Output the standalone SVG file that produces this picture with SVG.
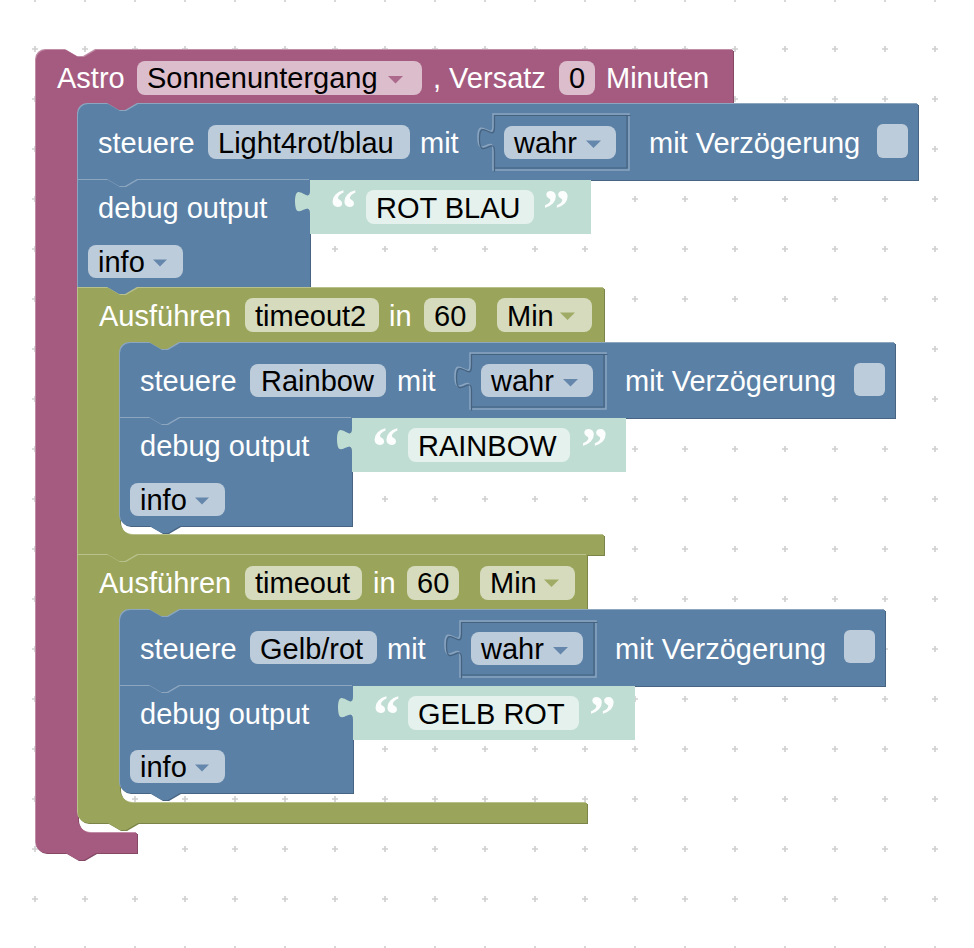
<svg xmlns="http://www.w3.org/2000/svg" width="974" height="948" viewBox="0 0 974 948">
<defs>
<pattern id="grid" x="10" y="24" width="50" height="50" patternUnits="userSpaceOnUse">
<path d="M22,25 H28 M25,22 V28" stroke="#cfcfcf" stroke-width="1.6"/>
</pattern>
<path id="sh-astro" d="M36,60 A10,10 0 0 1 46,50 H66 l12,7 h6 l12,-7 H733 V104 H138 l-12,7 h-6 l-12,-7 H88 A10,10 0 0 0 78,114 V819 A14,14 0 0 0 92,833 H137 V853 H96 l-12,7 h-6 l-12,-7 H46 A10,10 0 0 1 36,843 Z"/>
<path id="sh-st1" d="M78,114 A10,10 0 0 1 88,104 H108 l12,7 h6 l12,-7 H918 V180 H138 l-12,7 h-6 l-12,-7 H78 Z"/>
<path id="sh-db1" d="M78,180 H108 l12,7 h6 l12,-7 H310 V190 c0,16 -15,-11 -15,11.5 s15,-3.5 15,12.5 V288 H138 l-12,7 h-6 l-12,-7 H78 Z"/>
<path id="sh-ol1" d="M78,288 H108 l12,7 h6 l12,-7 H604 V343 H180 l-12,7 h-6 l-12,-7 H130 A10,10 0 0 0 120,353 V521 A14,14 0 0 0 134,535 H604 V555 H138 l-12,7 h-6 l-12,-7 H78 Z"/>
<path id="sh-st2" d="M120,353 A10,10 0 0 1 130,343 H150 l12,7 h6 l12,-7 H895 V418 H180 l-12,7 h-6 l-12,-7 H120 Z"/>
<path id="sh-db2" d="M120,418 H150 l12,7 h6 l12,-7 H352 V428 c0,16 -15,-11 -15,11.5 s15,-3.5 15,12.5 V526 H180 l-12,7 h-6 l-12,-7 H130 A10,10 0 0 1 120,516 Z"/>
<path id="sh-ol2" d="M78,555 H108 l12,7 h6 l12,-7 H587 V610 H180 l-12,7 h-6 l-12,-7 H130 A10,10 0 0 0 120,620 V789 A14,14 0 0 0 134,803 H587 V823 H138 l-12,7 h-6 l-12,-7 H88 A10,10 0 0 1 78,813 Z"/>
<path id="sh-st3" d="M120,620 A10,10 0 0 1 130,610 H150 l12,7 h6 l12,-7 H885 V686 H180 l-12,7 h-6 l-12,-7 H120 Z"/>
<path id="sh-db3" d="M120,686 H150 l12,7 h6 l12,-7 H353 V696 c0,16 -15,-11 -15,11.5 s15,-3.5 15,12.5 V793 H180 l-12,7 h-6 l-12,-7 H130 A10,10 0 0 1 120,783 Z"/>
<g id="hole">
<path d="M0,0 H136 V56 H0 V36 C0,20 -15,46 -15,23.5 C-15,1 0,28 0,12 Z" fill="none" stroke="#8ba5c0" stroke-width="1.5"/>
<path d="M136,0 H0 V12 C0,28 -15,1 -15,23.5 C-15,46 0,20 0,36 V56" transform="translate(1.5,1.5)" fill="none" stroke="#45627f" stroke-width="1.2"/>
<path d="M1.5,54 H134 V1.5" fill="none" stroke="#45627f" stroke-width="1.2"/>
</g>
</defs>
<style>
text{font-family:"Liberation Sans",Arial,Helvetica,sans-serif;font-size:29px}
.w{fill:#fff}
.k{fill:#000}
.pill{fill:#fff;fill-opacity:.6}
.q{font-family:"Liberation Serif","Times New Roman",serif;font-weight:bold;font-size:54px;fill:#fff;fill-opacity:.95}
.mg{fill:#a55b80}.mg-d{fill:#854966}.mg-l{fill:#c08ca6}
.bl{fill:#5b80a5}.bl-d{fill:#476583}.bl-l{fill:#8ca6c0}
.ol{fill:#9aa55b}.ol-d{fill:#7b8449}.ol-l{fill:#b8c08c}
.st{fill:#bfddd2}
.a-mg{fill:#a55b80;fill-opacity:.85}
.a-bl{fill:#5b80a5;fill-opacity:.9}
.a-ol{fill:#9aa55b;fill-opacity:.9}
</style>
<rect width="974" height="948" fill="#fff"/>
<rect width="974" height="948" fill="url(#grid)"/>

<g id="astro">
<use href="#sh-astro" class="mg-d" transform="translate(1,1)"/>
<use href="#sh-astro" class="mg-l" transform="translate(-1,-1)"/>
<use href="#sh-astro" class="mg"/>
<text class="w" x="57" y="87.5">Astro</text>
<rect class="pill" x="137" y="61" width="285" height="34" rx="8"/>
<text class="k" x="147" y="87.5">Sonnenuntergang</text>
<path class="a-mg" d="M388,76 h15 l-7.5,7.5 z"/>
<text class="w" x="433" y="87.5">, Versatz</text>
<rect class="pill" x="559" y="61" width="36" height="34" rx="8"/>
<text class="k" x="569" y="87.5">0</text>
<text class="w" x="606" y="87.5">Minuten</text>
</g>

<g id="steuere-light4">
<use href="#sh-st1" class="bl-d" transform="translate(1,1)"/>
<use href="#sh-st1" class="bl-l" transform="translate(-1,-1)"/>
<use href="#sh-st1" class="bl"/>
<text class="w" x="98" y="152.5">steuere</text>
<rect class="pill" x="208" y="125" width="202" height="34" rx="8"/>
<text class="k" x="218" y="152.5">Light4rot/blau</text>
<text class="w" x="420" y="152.5">mit</text>
<use href="#hole" x="493" y="114"/>
<text class="w" x="649" y="152.5">mit Verzögerung</text>
<rect class="pill" x="877" y="124" width="31" height="34" rx="6"/>
</g>
<g id="wahr-1">
<rect class="pill" x="504" y="126" width="112" height="33" rx="8"/>
<text class="k" x="514" y="152.5">wahr</text>
<path class="a-bl" d="M586,140.5 h15 l-7.5,7.5 z"/>
</g>

<g id="debug-rotblau">
<use href="#sh-db1" class="bl-d" transform="translate(1,1)"/>
<use href="#sh-db1" class="bl-l" transform="translate(-1,-1)"/>
<use href="#sh-db1" class="bl"/>
<text class="w" x="98" y="217.5">debug output</text>
<rect class="pill" x="88" y="245" width="95" height="33" rx="8"/>
<text class="k" x="98" y="271.5">info</text>
<path class="a-bl" d="M153,259.5 h14 l-7,7 z"/>
</g>
<g id="text-rotblau">
<path class="st" d="M310,180 H591 V234 H310 V214 C310,198 295,224 295,201.5 C295,179 310,206 310,190 Z"/>
<text class="q" x="330" y="227">“</text>
<rect class="pill" x="366" y="190" width="168" height="34" rx="8"/>
<text class="k" x="376" y="217.5">ROT BLAU</text>
<text class="q" x="543" y="227">”</text>
</g>

<g id="ausfuehren-timeout2">
<use href="#sh-ol1" class="ol-d" transform="translate(1,1)"/>
<use href="#sh-ol1" class="ol-l" transform="translate(-1,-1)"/>
<use href="#sh-ol1" class="ol"/>
<text class="w" x="99" y="326">Ausführen</text>
<rect class="pill" x="245" y="298" width="134" height="34" rx="8"/>
<text class="k" x="255" y="326">timeout2</text>
<text class="w" x="389" y="326">in</text>
<rect class="pill" x="424" y="298" width="52" height="34" rx="8"/>
<text class="k" x="434" y="326">60</text>
<rect class="pill" x="497" y="298" width="95" height="34" rx="8"/>
<text class="k" x="507" y="326">Min</text>
<path class="a-ol" d="M560,312.5 h15 l-7.5,7.5 z"/>
</g>

<g id="steuere-rainbow">
<use href="#sh-st2" class="bl-d" transform="translate(1,1)"/>
<use href="#sh-st2" class="bl-l" transform="translate(-1,-1)"/>
<use href="#sh-st2" class="bl"/>
<text class="w" x="140" y="391">steuere</text>
<rect class="pill" x="250" y="364" width="136" height="33" rx="8"/>
<text class="k" x="261" y="391">Rainbow</text>
<text class="w" x="397" y="391">mit</text>
<use href="#hole" x="470" y="353"/>
<text class="w" x="625" y="391">mit Verzögerung</text>
<rect class="pill" x="854" y="363" width="31" height="33" rx="6"/>
</g>
<g id="wahr-2">
<rect class="pill" x="481" y="364" width="112" height="33" rx="8"/>
<text class="k" x="491" y="391">wahr</text>
<path class="a-bl" d="M563,379 h15 l-7.5,7.5 z"/>
</g>

<g id="debug-rainbow">
<use href="#sh-db2" class="bl-d" transform="translate(1,1)"/>
<use href="#sh-db2" class="bl-l" transform="translate(-1,-1)"/>
<use href="#sh-db2" class="bl"/>
<text class="w" x="140" y="455.5">debug output</text>
<rect class="pill" x="130" y="483" width="95" height="33" rx="8"/>
<text class="k" x="140" y="509.5">info</text>
<path class="a-bl" d="M195,497.5 h14 l-7,7 z"/>
</g>
<g id="text-rainbow">
<path class="st" d="M352,418 H626 V472 H352 V452 C352,436 337,462 337,439.5 C337,417 352,444 352,428 Z"/>
<text class="q" x="372" y="465">“</text>
<rect class="pill" x="408" y="428" width="162" height="34" rx="8"/>
<text class="k" x="418" y="455.5">RAINBOW</text>
<text class="q" x="581" y="465">”</text>
</g>

<g id="ausfuehren-timeout">
<use href="#sh-ol2" class="ol-d" transform="translate(1,1)"/>
<use href="#sh-ol2" class="ol-l" transform="translate(-1,-1)"/>
<use href="#sh-ol2" class="ol"/>
<text class="w" x="99" y="593">Ausführen</text>
<rect class="pill" x="245" y="566" width="117" height="34" rx="8"/>
<text class="k" x="255" y="593">timeout</text>
<text class="w" x="373" y="593">in</text>
<rect class="pill" x="407" y="566" width="52" height="34" rx="8"/>
<text class="k" x="417" y="593">60</text>
<rect class="pill" x="480" y="566" width="95" height="34" rx="8"/>
<text class="k" x="490" y="593">Min</text>
<path class="a-ol" d="M544,579.5 h15 l-7.5,7.5 z"/>
</g>

<g id="steuere-gelbrot">
<use href="#sh-st3" class="bl-d" transform="translate(1,1)"/>
<use href="#sh-st3" class="bl-l" transform="translate(-1,-1)"/>
<use href="#sh-st3" class="bl"/>
<text class="w" x="140" y="658.5">steuere</text>
<rect class="pill" x="250" y="631" width="127" height="33" rx="8"/>
<text class="k" x="260" y="658.5">Gelb/rot</text>
<text class="w" x="387" y="658.5">mit</text>
<use href="#hole" x="460" y="621"/>
<text class="w" x="615" y="658.5">mit Verzögerung</text>
<rect class="pill" x="844" y="630" width="31" height="33" rx="6"/>
</g>
<g id="wahr-3">
<rect class="pill" x="471" y="632" width="112" height="33" rx="8"/>
<text class="k" x="481" y="658.5">wahr</text>
<path class="a-bl" d="M553,647 h15 l-7.5,7.5 z"/>
</g>

<g id="debug-gelbrot">
<use href="#sh-db3" class="bl-d" transform="translate(1,1)"/>
<use href="#sh-db3" class="bl-l" transform="translate(-1,-1)"/>
<use href="#sh-db3" class="bl"/>
<text class="w" x="140" y="723.5">debug output</text>
<rect class="pill" x="130" y="750" width="95" height="33" rx="8"/>
<text class="k" x="140" y="776.5">info</text>
<path class="a-bl" d="M195,764.5 h14 l-7,7 z"/>
</g>
<g id="text-gelbrot">
<path class="st" d="M353,686 H635 V740 H353 V720 C353,704 338,730 338,707.5 C338,685 353,712 353,696 Z"/>
<text class="q" x="373" y="733">“</text>
<rect class="pill" x="408" y="696" width="171" height="34" rx="8"/>
<text class="k" x="418" y="723.5">GELB ROT</text>
<text class="q" x="589" y="733">”</text>
</g>

<g id="connectors"></g>
</svg>
